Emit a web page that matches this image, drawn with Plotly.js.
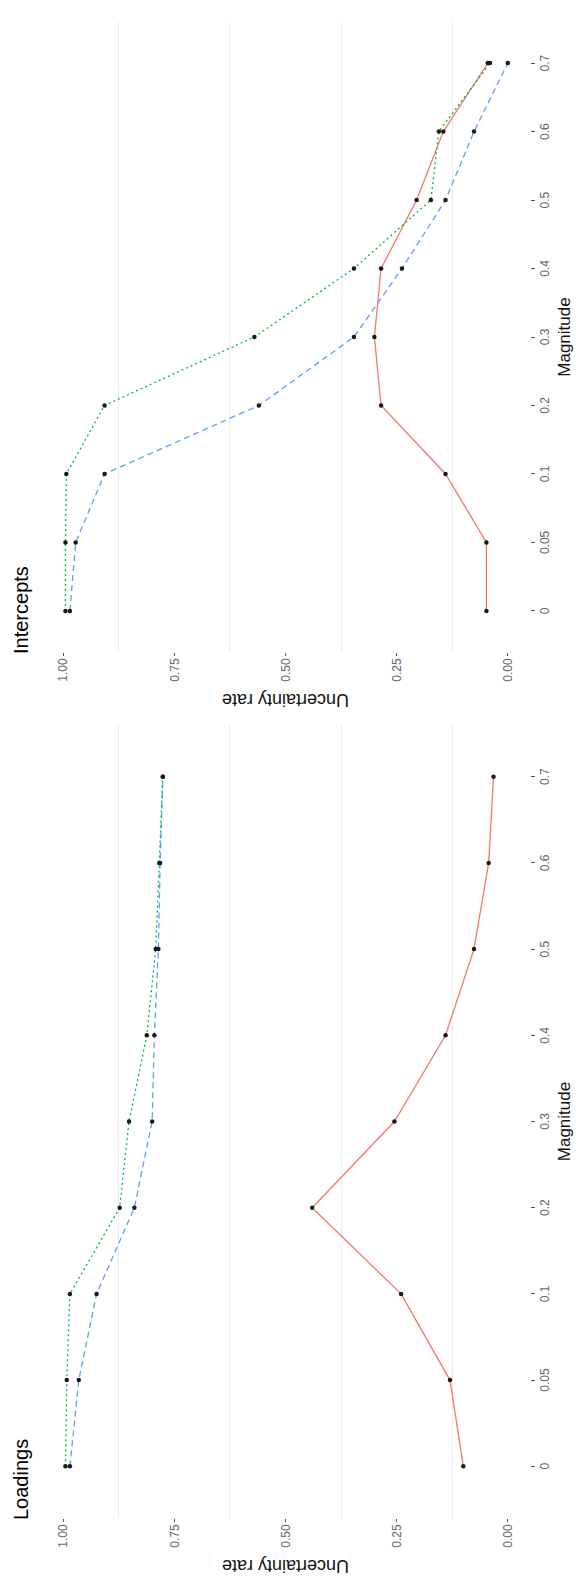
<!DOCTYPE html>
<html>
<head>
<meta charset="utf-8">
<script src="https://cdn.plot.ly/plotly-3.0.1.min.js"></script>
<style>
  html, body { margin: 0; padding: 0; width: 576px; height: 1593px; overflow: hidden; background: #ffffff; }
  /* the landscape figure is turned a quarter turn counter-clockwise onto the portrait page */
  #frame { position: absolute; left: 0; top: 0; width: 1593px; height: 576px;
           transform-origin: 0 0; transform: translateY(1593px) rotate(-90deg); }
  #chart { width: 1593px; height: 576px; }
</style>
</head>
<body>
<div id="frame"><div id="chart"></div></div>
<script>
// Magnitude levels (categorical axis)
const magnitude = ["0", "0.05", "0.1", "0.2", "0.3", "0.4", "0.5", "0.6", "0.7"];

// Uncertainty rate, loadings panel
const loadingsRed   = [0.10, 0.13, 0.24, 0.44, 0.255, 0.14, 0.076, 0.043, 0.032];
const loadingsBlue  = [0.985, 0.965, 0.925, 0.84, 0.80, 0.795, 0.786, 0.782, 0.776];
const loadingsGreen = [0.995, 0.992, 0.985, 0.873, 0.852, 0.812, 0.792, 0.784, 0.776];

// Uncertainty rate, intercepts panel
const interceptsRed   = [0.048, 0.048, 0.14, 0.285, 0.30, 0.285, 0.205, 0.145, 0.045];
const interceptsBlue  = [0.985, 0.972, 0.907, 0.56, 0.346, 0.238, 0.14, 0.076, 0.0];
const interceptsGreen = [0.995, 0.995, 0.993, 0.907, 0.57, 0.346, 0.173, 0.155, 0.04];

// Axis ticks
const rateTicks = [0, 0.25, 0.5, 0.75, 1];
const rateTickText = ["0.00", "0.25", "0.50", "0.75", "1.00"];

const W = 1593, H = 576;
const FONT = "Liberation Sans, Arial, Helvetica, sans-serif";
const RED = "#F8766D", BLUE = "#619CFF", GREEN = "#00BA38";

function series(x, y, color, dash, xa, ya) {
  return {
    type: "scatter", mode: "lines+markers", x: x, y: y, xaxis: xa, yaxis: ya,
    line: { color: color, width: 1.3, dash: dash },
    marker: { color: "#1a1a1a", size: 4.5 },
    showlegend: false, hoverinfo: "skip"
  };
}

const traces = [
  series(magnitude, loadingsRed,   RED,   "solid",     "x",  "y"),
  series(magnitude, loadingsBlue,  BLUE,  "6px,4px",   "x",  "y"),
  series(magnitude, loadingsGreen, GREEN, "2px,3px",   "x",  "y"),
  series(magnitude, interceptsRed,   RED,   "solid",   "x2", "y2"),
  series(magnitude, interceptsBlue,  BLUE,  "6px,4px", "x2", "y2"),
  series(magnitude, interceptsGreen, GREEN, "2px,3px", "x2", "y2")
];

function magAxis(domain, anchor) {
  return {
    domain: domain, anchor: anchor, type: "category", range: [-0.6, magnitude.length - 0.4],
    showgrid: false, zeroline: false, showline: false,
    ticks: "outside", ticklen: 4, tickwidth: 1, tickcolor: "#555555",
    tickfont: { family: FONT, size: 12, color: "#666666" },
    title: { text: "Magnitude", font: { family: FONT, size: 17, color: "#111111" }, standoff: 6 }
  };
}

function rateAxis(domain, anchor) {
  return {
    domain: domain, anchor: anchor, range: [-0.05, 1.05],
    tickmode: "array", tickvals: rateTicks, ticktext: rateTickText,
    showgrid: false, zeroline: false, showline: false,
    minor: { tickmode: "linear", tick0: 0.125, dtick: 0.25, showgrid: true,
             gridcolor: "#ebebeb", gridwidth: 1, ticks: "" },
    ticks: "outside", ticklen: 3, tickwidth: 1, tickcolor: "#555555",
    tickfont: { family: FONT, size: 12, color: "#666666" },
    title: { text: "Uncertainty rate", font: { family: FONT, size: 18, color: "#111111" }, standoff: 6 }
  };
}

const yDom = [1 - 530 / H, 1 - 41 / H];

const layout = {
  width: W, height: H,
  margin: { l: 0, r: 0, t: 0, b: 0 },
  paper_bgcolor: "#ffffff", plot_bgcolor: "#ffffff",
  font: { family: FONT },
  xaxis:  magAxis([75 / W, 868 / W], "y"),
  yaxis:  rateAxis(yDom, "x"),
  xaxis2: magAxis([941 / W, 1571 / W], "y2"),
  yaxis2: rateAxis(yDom, "x2"),
  annotations: [
    { text: "Loadings", xref: "x domain", yref: "paper", x: 0, y: 1 - 21 / H,
      xanchor: "left", yanchor: "middle", xshift: -4, showarrow: false,
      font: { family: FONT, size: 20, color: "#000000" } },
    { text: "Intercepts", xref: "x2 domain", yref: "paper", x: 0, y: 1 - 21 / H,
      xanchor: "left", yanchor: "middle", xshift: -4, showarrow: false,
      font: { family: FONT, size: 20, color: "#000000" } }
  ]
};

Plotly.newPlot("chart", traces, layout, { displayModeBar: false, staticPlot: true });
</script>
</body>
</html>
